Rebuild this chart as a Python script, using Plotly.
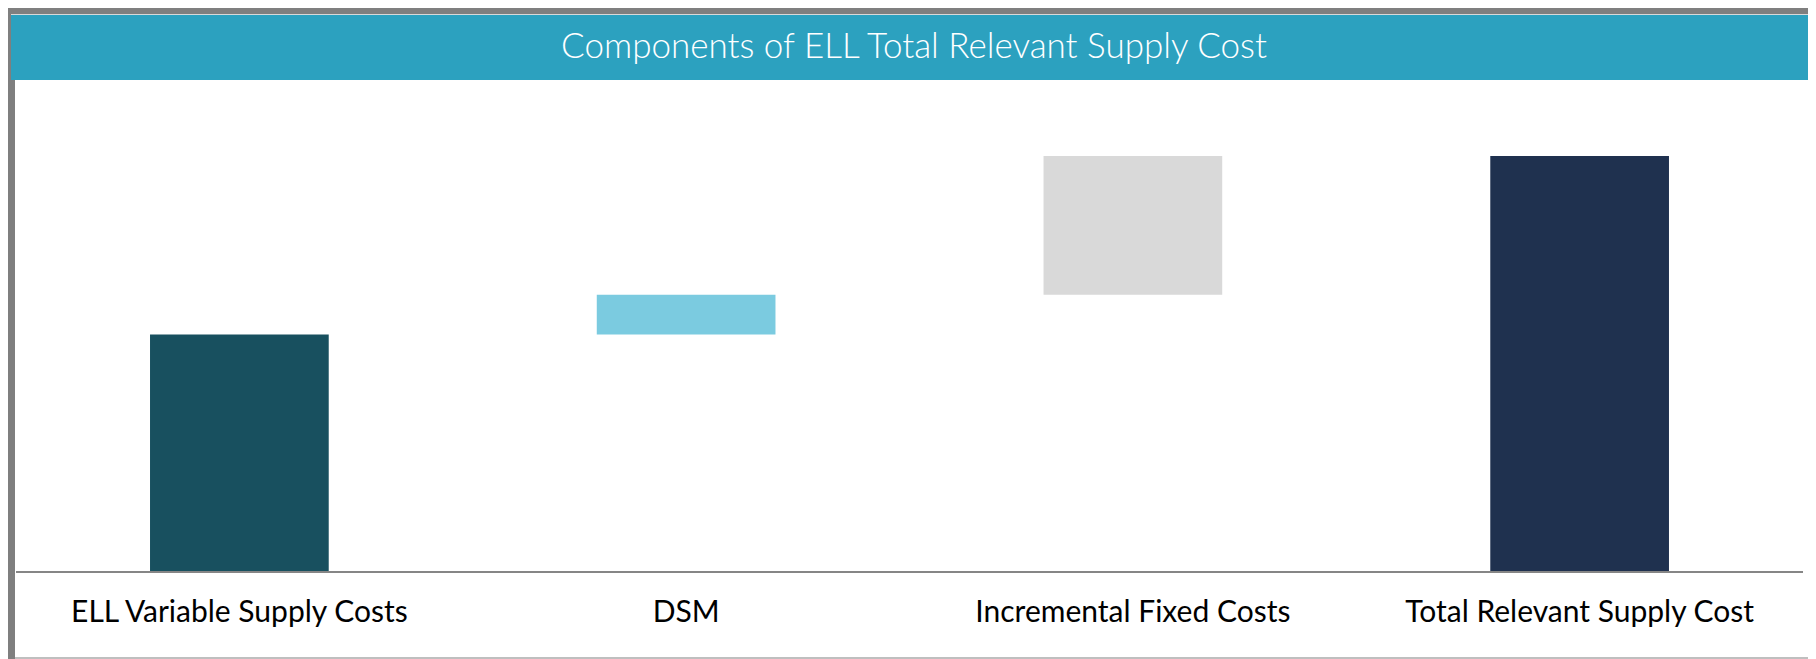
import plotly.graph_objects as go

# values (relative cost units)
categories = ["ELL Variable Supply Costs", "DSM", "Incremental Fixed Costs", "Total Relevant Supply Cost"]
variable_cost = 57.1
dsm_cost = 9.6
fixed_cost = 33.5
bar_colors = ["#18505F", "#7BCBE0", "#D9D9D9", "#1F314F"]

total_cost = variable_cost + dsm_cost + fixed_cost
heights = [variable_cost, dsm_cost, fixed_cost, total_cost]
bases = [0, variable_cost, variable_cost + dsm_cost, 0]

# the page puts the figure 8px in from the window corner
OFF = 8
W, H = 1816 - OFF, 659 - OFF
L, R, T, B = 16 - OFF, 13, 100 - OFF, 88


def px(x):
    return (x - OFF - L) / (W - L - R)


def py(y):
    return (H - B - (y - OFF)) / (H - T - B)


fig = go.Figure()
fig.add_trace(go.Bar(
    x=categories, y=heights, base=bases,
    marker=dict(color=bar_colors, line=dict(width=0)),
    width=0.4, hoverinfo="x+y", showlegend=False,
))

shapes = [
    # grey frame: top and left edges
    dict(type="rect", x0=px(7), x1=px(1816), y0=py(6), y1=py(14), fillcolor="#7F7F7F"),
    dict(type="rect", x0=px(7), x1=px(15), y0=py(6), y1=py(659), fillcolor="#7F7F7F"),
    dict(type="rect", x0=px(11), x1=px(1816), y0=py(14), y1=py(15), fillcolor="#D9D9D9"),
    # title band
    dict(type="rect", x0=px(11), x1=px(1816), y0=py(15), y1=py(80), fillcolor="#2CA1BF"),
    # bottom light line
    dict(type="rect", x0=px(15), x1=px(1816), y0=py(657), y1=py(659), fillcolor="#BFBFBF"),
]
for s in shapes:
    s.update(xref="paper", yref="paper", line=dict(width=0), layer="below")

fig.update_layout(
    width=W, height=H,
    margin=dict(l=L, r=R, t=T, b=B),
    paper_bgcolor="white", plot_bgcolor="white",
    font=dict(family="Lato, sans-serif", color="#000000"),
    shapes=shapes,
    bargap=0.6,
    title=dict(
        text="Components of ELL Total Relevant Supply Cost",
        font=dict(family="Lato, sans-serif", size=35, color="white", weight=300),
        x=(914 - OFF) / W, xref="container", xanchor="center",
        y=1 - (46 - OFF) / H, yref="container", yanchor="middle",
    ),
    xaxis=dict(
        showline=True, linecolor="#868686", linewidth=2,
        showgrid=False, ticks="", tickfont=dict(size=30, color="#000000"),
        ticklabelstandoff=13,
    ),
    yaxis=dict(
        range=[0, total_cost * (H - T - B) / 415],
        visible=False, showgrid=False, zeroline=False,
    ),
)

fig.write_html("out.html")
